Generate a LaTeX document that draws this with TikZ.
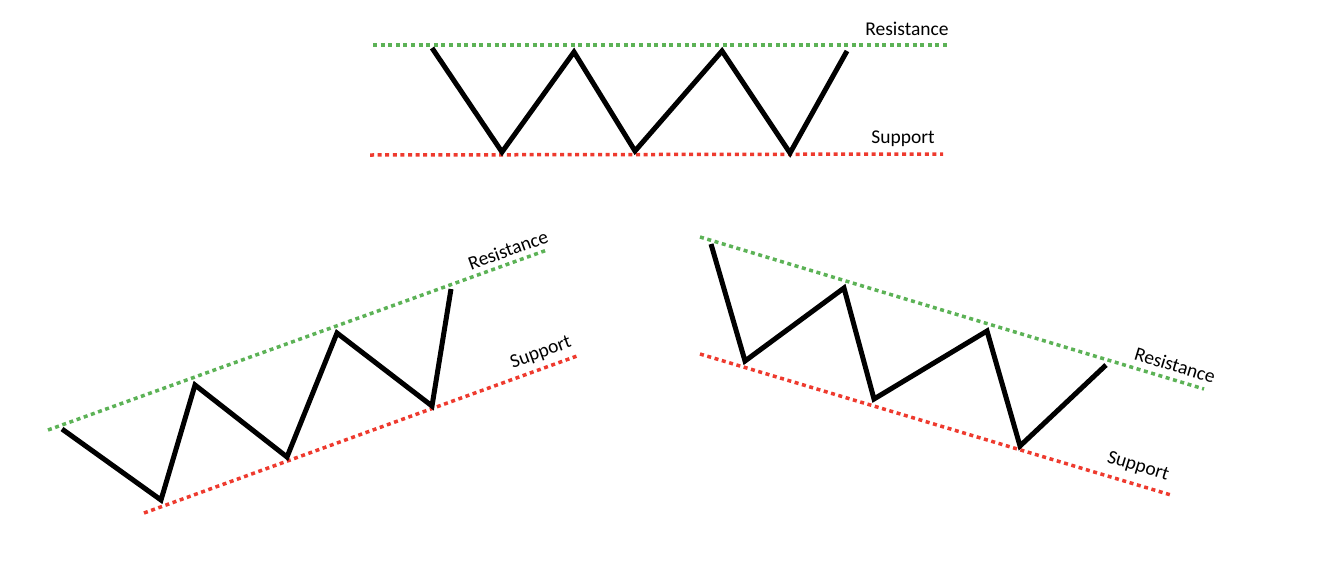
\documentclass[tikz,border=0pt]{standalone}
\usepackage{fontspec}
\setmainfont{Carlito}
\definecolor{resgreen}{RGB}{92,178,86}
\definecolor{supred}{RGB}{238,58,46}
\tikzset{
  resline/.style={draw=resgreen,line width=3.5pt,dash pattern=on 4pt off 3.6pt},
  supline/.style={draw=supred,line width=3.5pt,dash pattern=on 4pt off 3.6pt},
  price/.style={draw=black,line width=5pt,line join=miter},
  lbl/.style={font=\fontsize{19.5}{22}\selectfont,inner sep=0pt}
}
\begin{document}
\begin{tikzpicture}[x=1pt,y=-1pt]
\useasboundingbox (0,0) rectangle (1332,560);
% ---------- top: horizontal channel ----------
\coordinate (tg1) at (373,45); \coordinate (tg2) at (947,45);
\coordinate (tr1) at (370,155); \coordinate (tr2) at (943,154);
\draw[resline] (tg1) -- (tg2);
\draw[supline] (tr1) -- (tr2);
\coordinate (t1) at (432,48); \coordinate (t2) at (502,152);
\coordinate (t3) at (574,52); \coordinate (t4) at (635,151);
\coordinate (t5) at (722,51); \coordinate (t6) at (790,153);
\coordinate (t7) at (847,51);
\draw[price] (t1)--(t2)--(t3)--(t4)--(t5)--(t6)--(t7);
\node[lbl,anchor=base] (tres) at (907,35) {Resistance};
\node[lbl,anchor=base] (tsup) at (903,143) {Support};
% ---------- bottom left: rising channel ----------
\coordinate (lg1) at (48,430); \coordinate (lg2) at (547,250);
\coordinate (lr1) at (144,513); \coordinate (lr2) at (577,356);
\draw[resline] (lg1) -- (lg2);
\draw[supline] (lr1) -- (lr2);
\coordinate (l1) at (62,429); \coordinate (l2) at (161,500);
\coordinate (l3) at (195,385); \coordinate (l4) at (287,457);
\coordinate (l5) at (337,333); \coordinate (l6) at (432,406);
\coordinate (l7) at (451,289);
\draw[price] (l1)--(l2)--(l3)--(l4)--(l5)--(l6)--(l7);
\node[lbl,rotate=20] (lres) at (508,250) {Resistance};
\node[lbl,rotate=20] (lsup) at (541,353) {Support};
% ---------- bottom right: falling channel ----------
\coordinate (rg1) at (700,237); \coordinate (rg2) at (1204,389);
\coordinate (rr1) at (700,354); \coordinate (rr2) at (1171,495);
\draw[resline] (rg1) -- (rg2);
\draw[supline] (rr1) -- (rr2);
\coordinate (r1) at (711,244); \coordinate (r2) at (745,361);
\coordinate (r3) at (844,288); \coordinate (r4) at (874,399);
\coordinate (r5) at (987,331); \coordinate (r6) at (1020,446);
\coordinate (r7) at (1106,365);
\draw[price] (r1)--(r2)--(r3)--(r4)--(r5)--(r6)--(r7);
\node[lbl,rotate=-17] (rres) at (1175,365) {Resistance};
\node[lbl,rotate=-17] (rsup) at (1138,467) {Support};
\end{tikzpicture}
\end{document}
